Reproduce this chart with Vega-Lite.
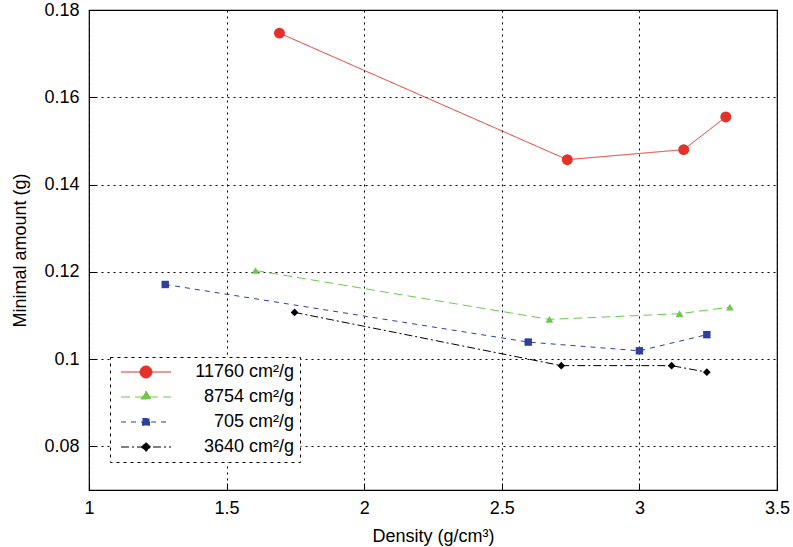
{
  "$schema": "https://vega.github.io/schema/vega-lite/v6.json",
  "width": 688,
  "height": 480,
  "autosize": "none",
  "padding": {"left": 89, "top": 10, "right": 16, "bottom": 57},
  "background": "white",
  "config": {
    "font": "Liberation Sans",
    "view": {"stroke": "black", "strokeWidth": 1.2},
    "axis": {
      "domain": false,
      "ticks": true,
      "tickSize": -7,
      "tickColor": "black",
      "tickWidth": 1,
      "grid": true,
      "gridColor": "black",
      "gridDash": [2, 4],
      "gridOpacity": 1,
      "gridWidth": 1,
      "labelFont": "Liberation Sans",
      "labelFontSize": 18,
      "labelColor": "black",
      "titleFont": "Liberation Sans",
      "titleFontSize": 18,
      "titleFontWeight": "normal",
      "titleColor": "black"
    },
    "legend": {
      "strokeColor": "black",
      "strokeDash": [3, 4],
      "fillColor": "white",
      "orient": "none",
      "legendX": 21,
      "legendY": 347,
      "padding": 6,
      "symbolSize": 100,
      "symbolOpacity": 1,
      "symbolStrokeWidth": 1,
      "labelOffset": 160,
      "labelFontSize": 18,
      "labelFont": "Liberation Sans",
      "labelColor": "black",
      "rowPadding": 7,
      "title": null
    }
  },
  "data": {
    "values": [
      {"series": "11760", "density": 1.692, "amount": 0.1747},
      {"series": "11760", "density": 2.738, "amount": 0.1457},
      {"series": "11760", "density": 3.161, "amount": 0.148},
      {"series": "11760", "density": 3.314, "amount": 0.1555},
      {"series": "8754", "density": 1.605, "amount": 0.1203},
      {"series": "8754", "density": 2.673, "amount": 0.1091},
      {"series": "8754", "density": 3.146, "amount": 0.1104},
      {"series": "8754", "density": 3.329, "amount": 0.1119},
      {"series": "705", "density": 1.277, "amount": 0.1171},
      {"series": "705", "density": 2.596, "amount": 0.1039},
      {"series": "705", "density": 3.0, "amount": 0.1019},
      {"series": "705", "density": 3.245, "amount": 0.1056},
      {"series": "3640", "density": 1.747, "amount": 0.1107},
      {"series": "3640", "density": 2.716, "amount": 0.0985},
      {"series": "3640", "density": 3.117, "amount": 0.0985},
      {"series": "3640", "density": 3.245, "amount": 0.097}
    ]
  },
  "encoding": {
    "x": {
      "field": "density", "type": "quantitative",
      "scale": {"domain": [1, 3.5], "nice": false, "zero": false},
      "axis": {"values": [1, 1.5, 2, 2.5, 3, 3.5], "format": "~g", "title": "Density (g/cm³)", "labelPadding": 16, "titlePadding": 10, "labelFlush": false}
    },
    "y": {
      "field": "amount", "type": "quantitative",
      "scale": {"domain": [0.07, 0.18], "nice": false, "zero": false},
      "axis": {"values": [0.08, 0.1, 0.12, 0.14, 0.16, 0.18], "title": "Minimal amount (g)", "labelPadding": 17, "titlePadding": 14, "labelFlush": false, "labelExpr": "datum.value == 0.1 ? '0.1' : format(datum.value, '.2f')"}
    }
  },
  "layer": [
    {
      "mark": {"type": "line", "strokeWidth": 1},
      "encoding": {
        "color": {"field": "series", "type": "nominal",
          "scale": {"domain": ["11760", "8754", "705", "3640"], "range": ["#e2322a", "#6cc94c", "#2e3f9e", "#000000"]},
          "legend": {
            "labelAlign": "right",
            "labelExpr": "datum.label + ' cm²/g'",
            "encode": {"symbols": {"update": {
              "shape": {"signal": "datum.value === '11760' ? 'M-0.8,0H9.2M3,0A1.2,1.2 0 1,0 5.4,0A1.2,1.2 0 1,0 3,0Z' : datum.value === '8754' ? 'M-0.8,0H9.2M4.2,-1.2L5.2,0.4L3.2,0.4Z' : datum.value === '705' ? 'M-0.8,0H9.2M3.5,-0.7H4.9V0.7H3.5Z' : 'M-0.8,0H9.2M4.2,-0.9L5.1,0L4.2,0.9L3.3,0Z'"},
              "fill": {"signal": "datum.value === '11760' ? '#e2322a' : datum.value === '8754' ? '#6cc94c' : datum.value === '705' ? '#2e3f9e' : '#000000'"},
              "stroke": {"signal": "datum.value === '11760' ? '#e2322a' : datum.value === '8754' ? '#6cc94c' : datum.value === '705' ? '#2e3f9e' : '#000000'"},
              "strokeDash": {"signal": "datum.value === '11760' ? [1, 0] : datum.value === '8754' ? [9, 5] : datum.value === '705' ? [5, 5] : [8, 3, 2, 3]"},
              "size": {"value": 100},
              "strokeWidth": {"value": 1},
              "opacity": {"value": 1}
            }}}
          }},
        "strokeDash": {"field": "series", "type": "nominal", "legend": null,
          "scale": {"domain": ["11760", "8754", "705", "3640"], "range": [[1, 0], [9, 5], [5, 5], [8, 3, 2, 3]]}}
      }
    },
    {
      "transform": [{"filter": "datum.series == '11760'"}],
      "mark": {"type": "point", "filled": true, "opacity": 1, "shape": "circle", "size": 120, "color": "#e2322a"},
      "encoding": {}
    },
    {
      "transform": [{"filter": "datum.series == '8754'"}],
      "mark": {"type": "point", "filled": true, "opacity": 1, "shape": "triangle-up", "size": 60, "color": "#6cc94c"},
      "encoding": {}
    },
    {
      "transform": [{"filter": "datum.series == '705'"}],
      "mark": {"type": "point", "filled": true, "opacity": 1, "shape": "square", "size": 55, "color": "#2e3f9e"},
      "encoding": {}
    },
    {
      "transform": [{"filter": "datum.series == '3640'"}],
      "mark": {"type": "point", "filled": true, "opacity": 1, "shape": "diamond", "size": 60, "color": "#000000"},
      "encoding": {}
    }
  ]
}
